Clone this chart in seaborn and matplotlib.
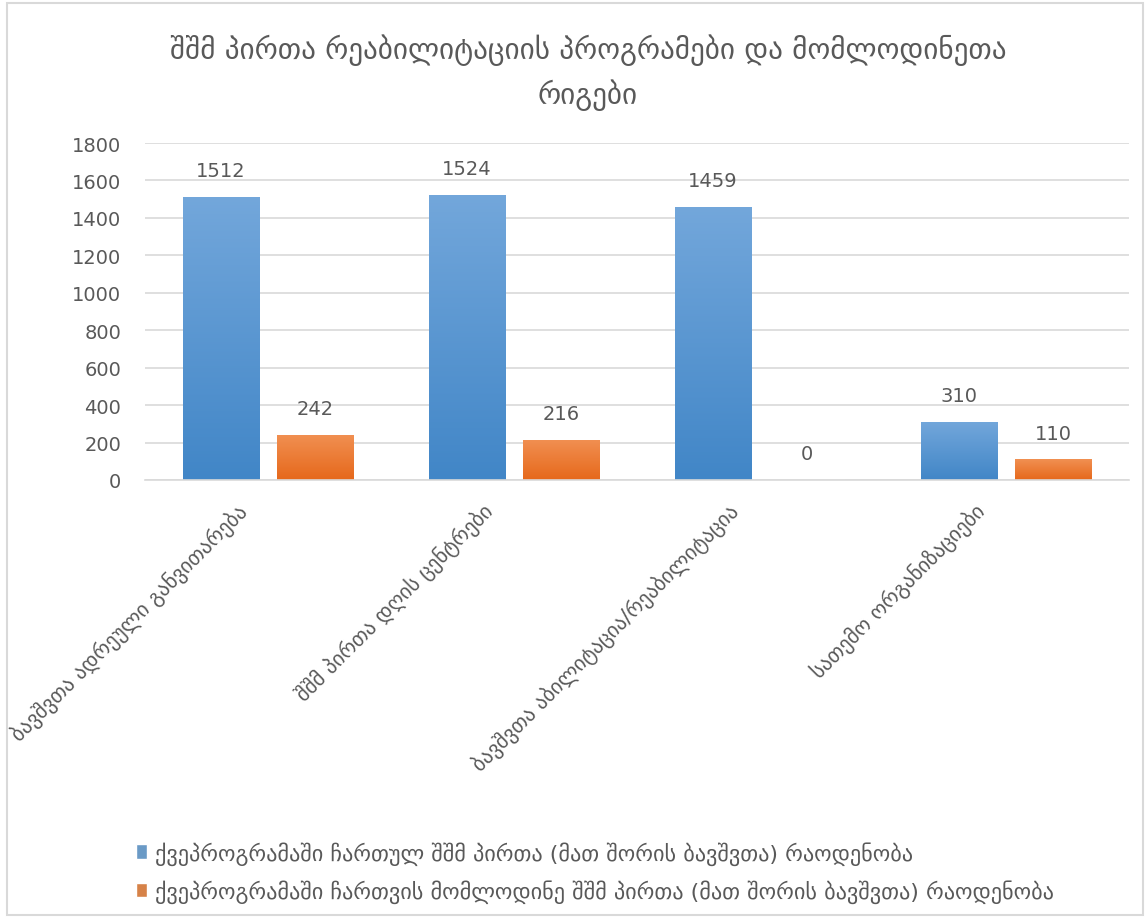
import numpy as np
import pandas as pd
import matplotlib
matplotlib.use("Agg")
import matplotlib.pyplot as plt
import matplotlib.transforms as mtransforms
import seaborn as sns
from matplotlib.colors import LinearSegmentedColormap
from matplotlib.patches import Rectangle

# chart data
categories = [
    "ბავშვთა ადრეული განვითარება",
    "შშმ პირთა დღის ცენტრები",
    "ბავშვთა აბილიტაცია/რეაბილიტაცია",
    "სათემო ორგანიზაციები",
]
series_names = [
    "ქვეპროგრამაში ჩართულ შშმ პირთა (მათ შორის ბავშვთა) რაოდენობა",
    "ქვეპროგრამაში ჩართვის მომლოდინე შშმ პირთა (მათ შორის ბავშვთა) რაოდენობა",
]
enrolled = [1512, 1524, 1459, 310]
waiting = [242, 216, 0, 110]
title = "შშმ პირთა რეაბილიტაციის პროგრამები და მომლოდინეთა\nრიგები"
y_ticks = [0, 200, 400, 600, 800, 1000, 1200, 1400, 1600, 1800]

df = pd.DataFrame({
    "category": categories * 2,
    "series": [series_names[0]] * 4 + [series_names[1]] * 4,
    "value": enrolled + waiting,
})

sns.set_theme(style="white")
plt.rcParams["font.family"] = ["DejaVu Sans"]
text_gray = "#595959"
grid_gray = "#D9D9D9"
blue_top, blue_bot = "#73A7DB", "#4186C7"
orange_top, orange_bot = "#F19052", "#E6681B"

fig = plt.figure(figsize=(11.48, 9.2), dpi=100)
ax = fig.add_axes([145 / 1148, 1 - 481 / 920, (1129 - 145) / 1148, (481 - 144) / 920])

sns.barplot(data=df, x="category", y="value", hue="series", order=categories,
            hue_order=series_names, palette=["#5B9BD5", "#ED7D31"],
            width=0.77, gap=0.195, ax=ax, legend=True)

# gradient fill for bars
grad = np.linspace(0, 1, 256).reshape(-1, 1)
cmaps = [LinearSegmentedColormap.from_list("b", [blue_bot, blue_top]),
         LinearSegmentedColormap.from_list("o", [orange_bot, orange_top])]
for cont, cmap in zip(ax.containers, cmaps):
    for bar in cont:
        x0, y0 = bar.get_x(), bar.get_y()
        w, h = bar.get_width(), bar.get_height()
        if h <= 0:
            continue
        im = ax.imshow(grad, cmap=cmap, aspect="auto", origin="lower",
                       extent=[x0, x0 + w, y0, y0 + h], zorder=bar.get_zorder())
        im.set_clip_path(bar)
        bar.set_facecolor("none")
        bar.set_edgecolor("none")
    ax.bar_label(cont, labels=[str(int(v.get_height())) for v in cont],
                 padding=12, fontsize=14, color=text_gray)

ax.set_xlim(-0.5, 3.5)
ax.set_ylim(0, 1800)
ax.set_yticks(y_ticks)
ax.set_yticklabels([str(t) for t in y_ticks], fontsize=14, color=text_gray)
ax.yaxis.grid(True, color=grid_gray, linewidth=1.2)
ax.set_axisbelow(True)
for s in ["top", "right", "left"]:
    ax.spines[s].set_visible(False)
ax.spines["bottom"].set_color(grid_gray)
ax.spines["bottom"].set_linewidth(1.2)
ax.tick_params(axis="y", length=0, pad=17)
ax.tick_params(axis="x", length=0, pad=14)
ax.set_xlabel("")
ax.set_ylabel("")
ax.set_xticks(range(len(categories)))
ax.set_xticklabels(categories, rotation=45, ha="right", rotation_mode="anchor",
                   fontsize=15, color=text_gray)
shift = mtransforms.ScaledTranslation(-32 / 100, 0, fig.dpi_scale_trans)
for lbl in ax.get_xticklabels():
    lbl.set_transform(lbl.get_transform() + shift)

# legend at bottom
handles, labels = ax.get_legend_handles_labels()
ax.get_legend().remove()
fig.legend(handles, labels, loc="upper left", bbox_to_anchor=(116 / 1148, 1 - 822 / 920),
           frameon=False, fontsize=16, labelcolor=text_gray, handlelength=0.5,
           handleheight=0.65, handletextpad=0.35, labelspacing=0.65)

fig.text(588 / 1148, 1 - 73 / 920, title, ha="center", va="center", fontsize=21,
         color=text_gray, linespacing=1.55)

fig.patches.append(Rectangle((0.006, 0.004), 0.99, 0.992, transform=fig.transFigure,
                             fill=False, edgecolor=grid_gray, linewidth=1.5))

fig.savefig("out.png", dpi=100, facecolor="white")
